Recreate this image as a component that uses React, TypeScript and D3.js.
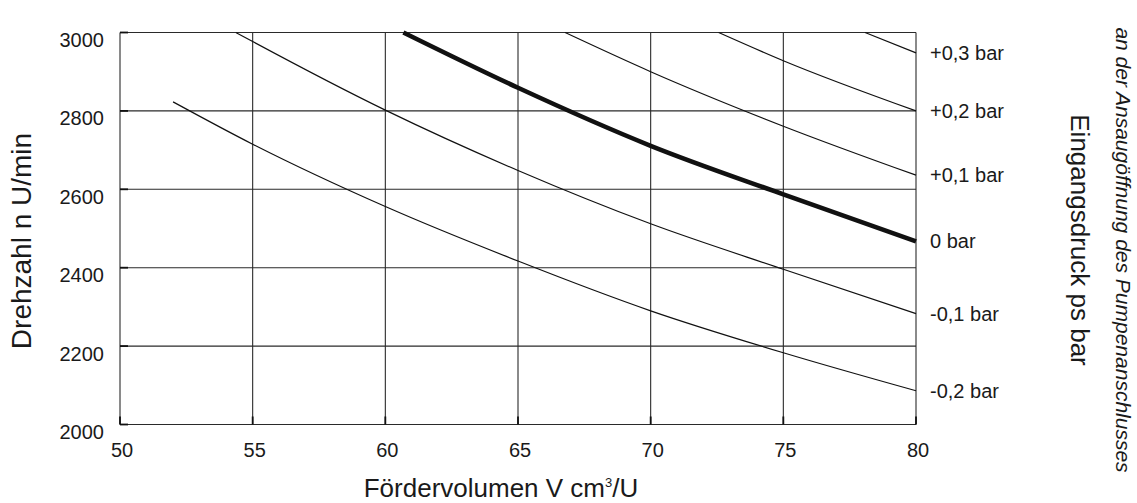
import React from "react";
import * as d3 from "d3";

const xTicks = [50, 55, 60, 65, 70, 75, 80];
const yTicks = [2000, 2200, 2400, 2600, 2800, 3000];

const curveM02: [number, number][] = [[52, 2823], [55, 2715], [60, 2556], [65, 2417], [70, 2290], [75, 2183], [80, 2086]];
const curveM01: [number, number][] = [[54.37, 3000], [55, 2977], [60, 2802], [65, 2648], [70, 2512], [75, 2396], [80, 2283]];
const curveZero: [number, number][] = [[60.68, 3000], [65, 2859], [70, 2711], [75, 2587], [80, 2467]];
const curveP01: [number, number][] = [[66.77, 3000], [70, 2900], [75, 2761], [80, 2636]];
const curveP02: [number, number][] = [[72.56, 3000], [75, 2928], [80, 2800]];
const curveP03: [number, number][] = [[78.08, 3000], [80, 2948]];

const seriesCurves = [curveP03, curveP02, curveP01, curveZero, curveM01, curveM02];
const seriesLabels = ["+0,3 bar", "+0,2 bar", "+0,1 bar", "0 bar", "-0,1 bar", "-0,2 bar"];
const boldIndex = 3;

const xTitle = "Fördervolumen V cm";
const yTitle = "Drehzahl n U/min";
const rightTitle = "Eingangsdruck ps bar";
const rightSubtitle = "an der Ansaugöffnung des Pumpenanschlusses";

const W = 1137;
const H = 503;
const L = 120, R = 916, T = 32.5, B = 424.5;
const FONT = "'Liberation Sans', Arial, Helvetica, sans-serif";

export default function App() {
  const x = d3.scaleLinear().domain([50, 80]).range([L, R]);
  const y = d3.scaleLinear().domain([2000, 3000]).range([B, T]);
  const line = d3.line<[number, number]>()
    .x(d => x(d[0]))
    .y(d => y(d[1]))
    .curve(d3.curveMonotoneX);
  const grid = "#2a2a2a";
  return (
    <svg width={W} height={H} style={{ position: "absolute", left: 0, top: 0, background: "#fff" }}
      fontFamily={FONT}>
      <rect x={0} y={0} width={W} height={H} fill="#fff" />
      {xTicks.map(t => (
        <line key={"gx" + t} x1={x(t)} x2={x(t)} y1={T} y2={B} stroke={grid} strokeWidth={1.1} />
      ))}
      {yTicks.map(t => (
        <line key={"gy" + t} x1={L} x2={R} y1={y(t)} y2={y(t)} stroke={grid} strokeWidth={1.1} />
      ))}
      {yTicks.map(t => (
        <line key={"ty" + t} x1={L} x2={L + 8} y1={y(t)} y2={y(t)} stroke="#111" strokeWidth={1.8} />
      ))}
      {xTicks.map(t => (
        <line key={"tx" + t} x1={x(t)} x2={x(t)} y1={B} y2={B - 8} stroke="#111" strokeWidth={1.8} />
      ))}
      {seriesCurves.map((c, i) => (
        <path key={"c" + i} d={line(c) || ""} fill="none" stroke="#111"
          strokeWidth={i === boldIndex ? 4.6 : 1.2} strokeLinecap="butt" />
      ))}
      {yTicks.map(t => (
        <text key={"ly" + t} x={104} y={y(t) + 14.5} fontSize={20} textAnchor="end" fill="#1a1a1a">{t}</text>
      ))}
      {xTicks.map(t => (
        <text key={"lx" + t} x={x(t) + 2} y={457} fontSize={20} textAnchor="middle" fill="#1a1a1a">{t}</text>
      ))}
      {seriesCurves.map((c, i) => {
        const last = c[c.length - 1];
        return (
          <text key={"sl" + i} x={930} y={y(last[1]) + 7} fontSize={20} fill="#1a1a1a">{seriesLabels[i]}</text>
        );
      })}
      <text x={501} y={497} fontSize={26} textAnchor="middle" fill="#1a1a1a">
        {xTitle}
        <tspan fontSize={13} dy={-10}>3</tspan>
        <tspan dy={10}>/U</tspan>
      </text>
      <text transform={`translate(31,241) rotate(-90)`} fontSize={28} textAnchor="middle" fill="#1a1a1a">
        {yTitle}
      </text>
      <text transform={`translate(1071,240) rotate(90)`} fontSize={26} textAnchor="middle" fill="#1a1a1a">
        {rightTitle}
      </text>
      <text transform={`translate(1116,250) rotate(90)`} fontSize={21} fontStyle="italic" textAnchor="middle" fill="#1a1a1a">
        {rightSubtitle}
      </text>
    </svg>
  );
}
